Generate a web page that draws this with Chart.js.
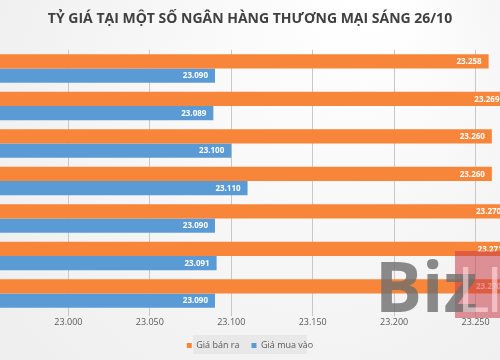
<!DOCTYPE html>
<html>
<head>
<meta charset="utf-8">
<script src="https://cdn.jsdelivr.net/npm/chart.js@4"></script>
<style>
  body { margin: 0; background: #fff; }
  #wrap { width: 500px; height: 360px; }
</style>
</head>
<body>
<div id="wrap"><canvas id="chart"></canvas></div>
<script>
const banks = ['NH 1', 'NH 2', 'NH 3', 'NH 4', 'NH 5', 'NH 6', 'NH 7']
const sellPrices = [23258, 23269, 23260, 23260, 23270, 23271, 23270]
const buyPrices = [23090, 23089, 23100, 23110, 23090, 23091, 23090]
const seriesNames = ['Giá bán ra', 'Giá mua vào']
const titleText = 'TỶ GIÁ TẠI MỘT SỐ NGÂN HÀNG THƯƠNG MẠI SÁNG 26/10'

const fmt = v => Math.round(v).toString().replace(/\B(?=(\d{3})+(?!\d))/g, '.')

// grey-ish backdrop like the original picture
const backdrop = {
  id: 'backdrop',
  beforeDraw (chart) {
    const { ctx, width, height } = chart
    const g = ctx.createRadialGradient(width * 0.75, 0, 20, width * 0.5, height * 0.5, width * 0.8)
    g.addColorStop(0, '#ffffff')
    g.addColorStop(1, '#ebebeb')
    ctx.save()
    ctx.fillStyle = g
    ctx.fillRect(0, 0, width, height)
    // legend box
    ctx.fillStyle = 'rgba(225,225,225,0.6)'
    ctx.fillRect(193, 335, 114, 19)
    ctx.restore()
  }
}

const barLabels = {
  id: 'barLabels',
  afterDatasetsDraw (chart) {
    const { ctx } = chart
    ctx.save()
    ctx.font = 'bold 8px "Open Sans", sans-serif'
    ctx.fillStyle = '#ffffff'
    ctx.textAlign = 'right'
    ctx.textBaseline = 'middle'
    chart.data.datasets.forEach((ds, i) => {
      chart.getDatasetMeta(i).data.forEach((bar, j) => {
        ctx.fillText(fmt(ds.data[j]), bar.x - 7, bar.y + 0.5)
      })
    })
    ctx.restore()
  }
}

const watermark = {
  id: 'watermark',
  afterDraw (chart) {
    const { ctx } = chart
    ctx.save()
    ctx.fillStyle = 'rgba(200,60,70,0.55)'
    ctx.fillRect(455, 251, 45, 67)
    ctx.font = 'bold 70px "Open Sans", sans-serif'
    ctx.textBaseline = 'alphabetic'
    ctx.fillStyle = 'rgba(110,110,110,0.8)'
    ctx.fillText('Biz', 375, 312)
    ctx.font = '62px "Open Sans", sans-serif'
    ctx.fillStyle = 'rgba(255,225,230,0.6)'
    ctx.fillText('L', 457, 312)
    ctx.fillText('I', 486, 312)
    ctx.restore()
  }
}

new Chart(document.getElementById('chart'), {
  type: 'bar',
  data: {
    labels: banks,
    datasets: [
      {
        label: seriesNames[0],
        data: sellPrices,
        backgroundColor: '#F7853A',
        categoryPercentage: 0.76,
        barPercentage: 1
      },
      {
        label: seriesNames[1],
        data: buyPrices,
        backgroundColor: '#5B9BD5',
        categoryPercentage: 0.76,
        barPercentage: 1
      }
    ]
  },
  options: {
    indexAxis: 'y',
    responsive: true,
    maintainAspectRatio: false,
    animation: false,
    layout: { padding: { left: 0, right: 0, top: 0, bottom: 0 } },
    scales: {
      x: {
        min: 22958,
        max: 23265,
        border: { display: false },
        grid: { color: '#c8c8c8', tickLength: 4 },
        ticks: {
          stepSize: 50,
          includeBounds: false,
          color: '#595959',
          font: { family: 'Open Sans', size: 9 },
          padding: 1,
          callback: v => fmt(v)
        }
      },
      y: {
        display: false,
        grid: { display: false }
      }
    },
    plugins: {
      title: {
        display: true,
        text: titleText,
        color: '#404040',
        font: { family: 'Open Sans', size: 14, weight: 'bold' },
        padding: { top: 11, bottom: 22 }
      },
      legend: {
        position: 'bottom',
        labels: {
          boxWidth: 5,
          boxHeight: 5,
          color: '#595959',
          font: { family: 'Open Sans', size: 9 },
          padding: 12
        }
      },
      tooltip: { enabled: false }
    }
  },
  plugins: [backdrop, barLabels, watermark]
})
</script>
</body>
</html>
